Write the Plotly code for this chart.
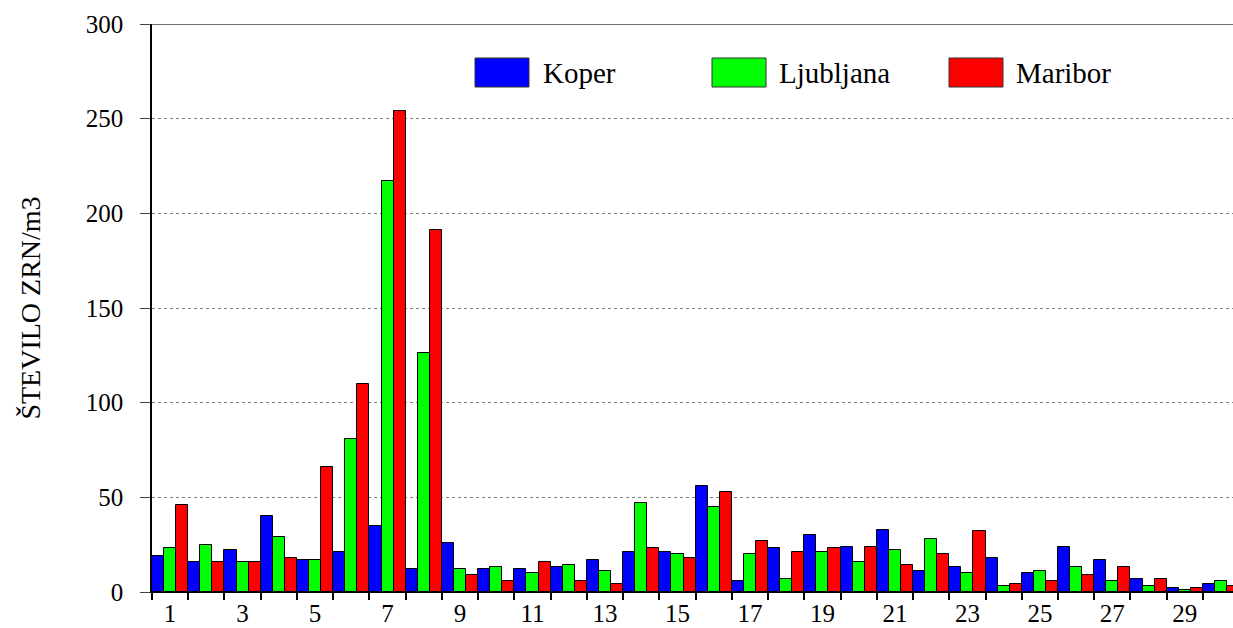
import plotly.graph_objects as go

days = list(range(1, 31))
koper = [19, 16, 22, 40, 17, 21, 35, 12, 26, 12, 12, 13, 17, 21, 21, 56, 6, 23, 30, 24,
         33, 11, 13, 18, 10, 24, 17, 7, 2, 4]
ljubljana = [23, 25, 16, 29, 17, 81, 217, 126, 12, 13, 10, 14, 11, 47, 20, 45, 20, 7, 21, 16,
             22, 28, 10, 3, 11, 13, 6, 3, 1, 6]
maribor = [46, 16, 16, 18, 66, 110, 254, 191, 9, 6, 16, 6, 4, 23, 18, 53, 27, 21, 23, 24,
           14, 20, 32, 4, 6, 9, 13, 7, 2, 3]
series_names = ["Koper", "Ljubljana", "Maribor"]
series_colors = ["#0000FF", "#00FF00", "#FF0000"]
x_tickvals = list(range(1, 30, 2))
x_ticktext = [str(v) for v in x_tickvals]
y_tickvals = [0, 50, 100, 150, 200, 250, 300]

FONT = "Liberation Serif"

fig = go.Figure()
for name, vals, col in zip(series_names, [koper, ljubljana, maribor], series_colors):
    fig.add_trace(go.Bar(x=days, y=vals, name=name,
                         marker=dict(color=col, line=dict(color="black", width=1)),
                         showlegend=False))

W, H = 1233, 628
PL, PT, PB = 152, 24, 592          # plot edges in page pixels
L, T, B, R = PL, PT, H - PB, 0
pw = W - L - R
ph = H - T - B

def px_x(p):
    return (p - PL) / pw

def px_y(p):
    return (PB - p) / ph

shapes = []
annotations = []
shapes.append(dict(type="line", xref="paper", yref="y", x0=0, x1=1, y0=300, y1=300,
                   line=dict(color="#404040", width=1.5)))
leg_box_x = [475, 712, 949]
leg_text_x = [541, 777, 1014]
for name, col, bx, tx in zip(series_names, series_colors, leg_box_x, leg_text_x):
    shapes.append(dict(type="rect", xref="paper", yref="paper",
                       x0=px_x(bx), x1=px_x(bx + 54), y0=px_y(87), y1=px_y(58),
                       fillcolor=col, line=dict(color="#333333", width=1)))
    annotations.append(dict(text=name, xref="paper", yref="paper", x=px_x(tx), y=px_y(73),
                            xanchor="left", yanchor="middle", showarrow=False,
                            font=dict(family=FONT, size=29, color="black")))

fig.update_layout(
    width=W, height=H,
    margin=dict(l=L, r=R, t=T, b=B, pad=0),
    paper_bgcolor="white", plot_bgcolor="white",
    barmode="group", bargap=0, bargroupgap=0,
    font=dict(family=FONT, color="black"),
    shapes=shapes, annotations=annotations,
    xaxis=dict(range=[0.5, 0.5 + (W - PL) / 36.24], tickmode="array",
               tickvals=x_tickvals, ticktext=x_ticktext, ticks="",
               tickfont=dict(family=FONT, size=25, color="black"),
               showgrid=False, zeroline=False, showline=True, linecolor="black", linewidth=1,
               ticklabelstandoff=-1, automargin=False,
               minor=dict(tickmode="array", tickvals=[d - 0.5 for d in days] + [30.5],
                          ticks="outside", ticklen=7, tickcolor="black", tickwidth=1.5,
                          showgrid=False)),
    yaxis=dict(range=[0, 300], tickmode="array", tickvals=y_tickvals,
               ticks="outside", ticklen=10, tickcolor="#444444", tickwidth=1,
               tickfont=dict(family=FONT, size=25, color="black"),
               ticklabelstandoff=12, automargin=False,
               showgrid=True, gridcolor="#808080", griddash="dot", gridwidth=1,
               zeroline=False, showline=True, linecolor="black", linewidth=1.5,
               title=dict(text="ŠTEVILO ZRN/m3", font=dict(family=FONT, size=28, color="black"),
                          standoff=37)),
)

fig.write_html("out.html",
               config={"displayModeBar": False},
               post_script="document.body.style.margin='0px';"
                           "document.documentElement.style.overflow='hidden';"
                           "document.body.style.overflow='hidden';")
